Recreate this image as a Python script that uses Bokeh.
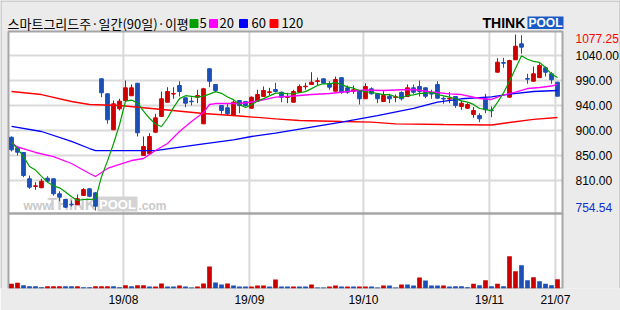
from bokeh.plotting import figure
from bokeh.models import Range1d, FixedTicker, ColumnDataSource
from bokeh.core.properties import value
from bokeh.embed import file_html
from bokeh.resources import INLINE

# ---------------- data ----------------
opens = [888.9, 869.5, 860.9, 812.7, 798.5, 796.2, 813.8, 812.7, 785.2, 774.7,
         766.1, 765.0, 782.0, 794.3, 787.0, 996.0, 968.5, 902.5, 941.0, 956.2,
         964.9, 987.9, 855.4, 858.5, 898.1, 926.9, 953.1, 968.0, 983.7, 961.2,
         955.0, 962.3, 913.5, 1014.4, 985.6, 947.1, 942.9, 928.7, 956.2, 954.4,
         942.1, 955.0, 963.6, 970.9, 976.4, 971.4, 962.0, 953.1, 971.4, 981.4,
         985.6, 991.1, 996.0, 986.9, 973.3, 998.1, 979.5, 973.3, 974.6, 959.4,
         977.7, 968.5, 954.4, 964.1, 962.0, 970.9, 963.6, 979.5, 981.9, 979.5,
         969.1, 985.6, 960.2, 958.9, 963.6, 945.2, 942.1, 930.6, 928.7, 959.4,
         938.5, 1008.1, 1025.9, 962.3, 1030.9, 1060.2, 996.6, 991.6, 998.1, 1016.2,
         1005.2, 989.8]
highs = [890.2, 871.0, 861.5, 818.7, 806.4, 812.7, 817.4, 813.5, 789.9, 775.5,
         772.9, 783.9, 795.4, 795.0, 787.5, 996.5, 969.0, 956.2, 959.4, 992.9,
         985.6, 988.5, 890.2, 896.3, 931.8, 972.7, 980.6, 980.6, 991.6, 961.7,
         962.3, 975.9, 979.5, 1015.0, 986.1, 947.6, 951.3, 956.2, 956.7, 954.9,
         963.6, 975.9, 981.9, 979.5, 988.7, 972.7, 970.4, 975.9, 985.6, 988.7,
         1008.1, 998.1, 996.5, 991.6, 1000.2, 998.6, 983.7, 983.7, 975.1, 987.9,
         980.6, 969.0, 973.3, 968.5, 967.2, 973.3, 985.6, 985.6, 992.9, 980.0,
         975.9, 991.6, 963.6, 971.4, 964.1, 956.2, 951.3, 944.0, 932.9, 968.5,
         945.2, 1033.8, 1034.5, 1030.9, 1077.25, 1076.0, 1005.2, 1018.6, 1024.6, 1018.6,
         1008.1, 990.3]
lows = [862.7, 855.4, 815.6, 794.3, 792.5, 795.5, 806.4, 782.0, 771.6, 759.1,
        761.9, 764.5, 781.5, 778.9, 754.54, 962.3, 913.5, 902.0, 937.9, 955.7,
        964.4, 890.2, 854.9, 858.0, 897.6, 926.4, 952.6, 959.4, 963.6, 944.0,
        947.1, 951.3, 913.0, 980.6, 971.4, 931.8, 928.7, 928.2, 932.9, 945.2,
        941.6, 954.5, 963.1, 965.4, 971.4, 953.1, 951.3, 952.6, 970.9, 975.9,
        985.1, 983.7, 986.9, 975.9, 972.8, 968.5, 968.5, 968.5, 948.9, 958.9,
        967.2, 951.3, 953.9, 951.3, 953.1, 956.2, 963.1, 968.5, 963.6, 960.5,
        959.4, 959.4, 950.2, 951.3, 942.9, 939.2, 941.6, 924.5, 916.4, 932.9,
        925.6, 1007.6, 1016.2, 961.8, 1030.4, 1041.9, 986.9, 991.1, 997.6, 1000.2,
        986.9, 964.1]
closes = [865.8, 861.4, 818.7, 797.3, 799.8, 808.3, 808.3, 785.2, 778.9, 760.6,
          765.0, 776.0, 793.0, 780.7, 762.4, 970.4, 920.8, 950.2, 955.0, 979.5,
          979.5, 897.0, 871.9, 890.2, 924.5, 959.4, 972.7, 969.1, 972.7, 951.3,
          953.9, 965.4, 977.7, 991.6, 974.6, 937.9, 931.8, 953.1, 947.1, 947.1,
          962.3, 967.2, 974.6, 972.2, 972.7, 962.3, 963.0, 972.7, 981.9, 982.5,
          989.8, 992.4, 987.9, 980.6, 994.7, 971.4, 971.4, 975.9, 959.4, 981.9,
          968.5, 959.4, 965.4, 959.4, 963.0, 959.4, 979.5, 971.4, 972.7, 964.1,
          968.0, 960.5, 958.9, 960.2, 947.1, 951.3, 948.9, 937.9, 922.7, 939.2,
          937.4, 1026.5, 1024.6, 1029.6, 1055.8, 1054.0, 995.3, 1005.2, 1020.4, 1008.1,
          994.2, 964.1]
volumes = [47, 57, 33, 23, 23, 13, 23, 23, 23, 23,
           23, 23, 13, 13, 23, 23, 23, 23, 13, 33,
           23, 33, 33, 20, 20, 50, 20, 20, 30, 20,
           10, 20, 50, 220, 60, 40, 50, 30, 20, 20,
           20, 30, 30, 20, 90, 20, 20, 20, 20, 20,
           40, 10, 10, 20, 30, 20, 20, 20, 20, 20,
           20, 10, 30, 30, 10, 40, 40, 30, 110, 80,
           30, 30, 30, 20, 23, 23, 13, 47, 33, 83,
           23, 47, 23, 323, 173, 233, 83, 113, 73, 47,
           33, 93]
volume_up = [1, 1, 0, 0, 0, 0, 1, 1, 1, 0, 0, 1, 0, 0, 1, 1, 1, 0, 0, 1, 0, 1, 1,
             0, 1, 1, 0, 0, 1, 0, 0, 1, 1, 1, 0, 0, 1, 0, 0, 0, 1, 1, 1, 0, 1, 0,
             0, 1, 0, 0, 1, 0, 0, 1, 1, 0, 1, 0, 1, 1, 0, 0, 1, 0, 0, 1, 0, 0, 1,
             0, 0, 0, 1, 0, 0, 0, 0, 1, 0, 1, 0, 1, 0, 1, 1, 0, 0, 1, 0, 0, 0, 1]

ma5 = [879.2, 868.2, 853.5, 835.2, 828.6, 817.1, 806.5, 799.8, 796.1, 788.3,
       779.6, 773.1, 774.7, 775.1, 775.4, 816.5, 845.5, 876.9, 911.8, 955.2,
       957.0, 952.2, 936.6, 923.6, 912.6, 908.6, 923.7, 943.2, 959.7, 965.0,
       963.9, 962.5, 964.2, 968.0, 972.6, 969.4, 962.7, 957.8, 948.9, 943.4,
       948.3, 955.4, 959.7, 964.7, 969.8, 969.8, 969.0, 968.6, 970.5, 972.5,
       978.0, 983.9, 986.9, 986.6, 989.1, 985.4, 981.2, 978.8, 974.6, 972.0,
       971.4, 969.0, 966.9, 966.9, 963.1, 961.3, 965.3, 966.5, 969.2, 969.4,
       971.1, 967.3, 964.8, 962.3, 958.9, 955.6, 953.3, 949.1, 941.6, 940.0,
       937.2, 952.7, 970.1, 991.5, 1014.8, 1038.1, 1031.9, 1028.0, 1026.1, 1016.6,
       1004.6, 998.4]
ma20_day = [0, 1, 4, 7, 10, 13, 14, 16, 18, 20, 22, 24, 26, 28, 30, 32, 33, 34, 38, 40,
            42, 44, 47, 50, 53, 56, 59, 62, 65, 67, 70, 73, 75, 78, 80, 82, 84, 86, 88, 90, 91]
ma20 = [879.4, 871.0, 860.9, 853.5, 840.7, 822.4, 816.9, 831.6, 838.9, 846.2,
        849.9, 864.5, 877.4, 899.4, 917.7, 934.2, 948.9, 950.7, 950.7, 953.5,
        957.2, 962.3, 964.5, 967.2, 969.1, 972.7, 975.5, 974.6, 975.9, 976.4,
        971.8, 968.5, 967.2, 959.9, 958.1, 966.3, 971.8, 978.2, 980.1, 982.8, 985.6]
ma60_day = [0, 5, 10, 13, 14, 24, 26, 32, 37, 40, 44, 50, 55, 61, 67, 71, 75, 80, 83, 87, 91]
ma60 = [908.6, 899.4, 881.1, 868.2, 864.5, 864.5, 867.6, 876.8, 884.2, 890.2,
        896.3, 907.6, 916.5, 928.7, 941.6, 953.1, 959.4, 963.0, 968.1, 972.7, 974.6]
ma120_day = [0, 5, 10, 13, 18, 22, 26, 32, 38, 44, 48, 55, 60, 64, 72, 80, 83, 87, 91]
ma120 = [972.7, 967.2, 954.4, 948.9, 947.1, 942.9, 938.8, 932.4, 927.8, 922.7,
         919.6, 917.7, 916.5, 913.5, 912.2, 911.3, 915.9, 921.8, 925.1]

month_start_day = [19, 40, 59, 80, 91]
month_labels = ["19/08", "19/09", "19/10", "19/11", "21/07"]
price_levels = [1038.8, 992.9, 947.1, 901.2, 855.4, 809.5]
price_labels = ["1040.00", "990.00", "940.00", "900.00", "850.00", "810.00"]

title_text = "스마트그리드주·일간(90일)·이평"
ma_names = ["5", "20", "60", "120"]

# ---------------- styling / geometry (pixels) ----------------
W, H = 620, 310
PL, PR, PT, PM, PB = 8, 562, 31, 213, 288     # panel left/right/top/middle/bottom
X0, STEP = 11.0, 6.0
HI_PX, LO_PX = 34.0, 210.0
MAXVOL_PX = 32.3
RED, BLUE = "#cc0000", "#1c4fb8"
MA_COLORS = ["#00a000", "#ff00ff", "#0000ff", "#ff0000"]
GRID = "#d9d9d9"
FRAME = "#a6a6a6"
BG = "#ebebeb"
KFONT = "Noto Sans CJK KR"
NFONT = "Liberation Sans"

n = len(closes)
hi, lo = max(highs), min(lows)
ppx = (hi - lo) / (LO_PX - HI_PX)


def px_x(px):
    return (px - X0) / STEP


def py_p(py):
    return hi - (py - HI_PX) * ppx


vol_per_px = max(volumes) / MAXVOL_PX

p = figure(width=W, height=H, output_backend="svg", toolbar_location=None,
           x_range=Range1d(px_x(0), px_x(W)), y_range=Range1d(py_p(PB), py_p(0)),
           min_border_left=0, min_border_right=0, min_border_top=0, min_border_bottom=H - PB,
           y_axis_location=None)
p.extra_y_ranges = {"vol": Range1d(0, vol_per_px * PB)}
p.background_fill_color = BG
p.border_fill_color = BG
p.outline_line_color = None
p.xgrid.visible = False
p.ygrid.visible = False

# date axis
grid_x = [d - 0.35 for d in month_start_day]
p.xaxis.ticker = FixedTicker(ticks=grid_x)
p.xaxis.major_label_overrides = {g: lab for g, lab in zip(grid_x, month_labels)}
ax = p.xaxis[0]
ax.axis_line_color = None
ax.major_tick_line_color = None
ax.minor_tick_line_color = None
ax.major_tick_out = 0
ax.major_tick_in = 0
ax.major_label_standoff = 4
ax.major_label_text_font = NFONT
ax.major_label_text_font_size = "12px"
ax.major_label_text_color = "#000000"

# outer border (top, left, right)
p.segment(x0=[px_x(0), px_x(0.5), px_x(619.5)], y0=[py_p(0.5), py_p(0), py_p(0)],
          x1=[px_x(W), px_x(0.5), px_x(619.5)], y1=[py_p(0.5), py_p(PB), py_p(PB)],
          color="#b4b4b4", line_width=1)

# white panels
p.quad(left=[px_x(PL)] * 2, right=[px_x(PR)] * 2, top=[py_p(PT), py_p(PM)],
       bottom=[py_p(PM), py_p(PB)], fill_color="white", line_color=None)

# grid lines
p.segment(x0=grid_x, x1=grid_x, y0=[py_p(PB)] * len(grid_x), y1=[py_p(PT)] * len(grid_x),
          color=GRID, line_width=2)
p.segment(x0=[px_x(PL)] * len(price_levels), x1=[px_x(PR)] * len(price_levels),
          y0=price_levels, y1=price_levels, color=GRID, line_width=2)

# panel frames
p.quad(left=[px_x(PL)] * 2, right=[px_x(PR)] * 2, top=[py_p(PT), py_p(PM)],
       bottom=[py_p(PM), py_p(PB)], fill_color=None, line_color=FRAME, line_width=2)

# watermark
p.text(x=[px_x(23)], y=[py_p(205)], text=["www."], text_font=value(NFONT),
       text_font_style="bold", text_font_size="12px", text_color="#c9c9c9",
       text_baseline="middle")
p.text(x=[px_x(47)], y=[py_p(204)], text=["THINK"], text_font=value(NFONT),
       text_font_style="bold", text_font_size="16px", text_color="#cdcdcd",
       text_baseline="middle")
p.quad(left=[px_x(97)], right=[px_x(137)], top=[py_p(196)], bottom=[py_p(211)],
       fill_color="#d4d4d4", line_color=None)
p.text(x=[px_x(117)], y=[py_p(204)], text=["POOL"], text_font=value(NFONT),
       text_font_style="bold", text_font_size="13px", text_color="#ffffff",
       text_baseline="middle", text_align="center")
p.text(x=[px_x(138)], y=[py_p(205)], text=[".com"], text_font=value(NFONT),
       text_font_style="bold", text_font_size="12px", text_color="#c9c9c9",
       text_baseline="middle")

# candles
days = list(range(n))
col = [RED if c >= o else BLUE for o, c in zip(opens, closes)]
src = ColumnDataSource(dict(x=days, o=opens, h=highs, l=lows, c=closes,
                            top=[max(o, c) for o, c in zip(opens, closes)],
                            bot=[min(o, c) for o, c in zip(opens, closes)], col=col))
p.segment(x0="x", y0="l", x1="x", y1="h", color="col", line_width=1, source=src)
p.vbar(x="x", width=0.62, top="top", bottom="bot", fill_color="col", line_color="col",
       line_width=1, source=src)

# volume
vsrc = ColumnDataSource(dict(x=days, v=volumes, col=[RED if u else BLUE for u in volume_up]))
p.vbar(x="x", width=0.78, top="v", bottom=0, fill_color="col", line_color=None,
       y_range_name="vol", source=vsrc)

# moving averages
p.line(ma120_day, ma120, color=MA_COLORS[3], line_width=1.3)
p.line(ma60_day, ma60, color=MA_COLORS[2], line_width=1.3)
p.line(ma20_day, ma20, color=MA_COLORS[1], line_width=1.3)
p.line(days, ma5, color=MA_COLORS[0], line_width=1.2)

# right-hand price labels
lab_y = [py_p(38)] + price_levels + [py_p(207)]
lab_t = [f"{hi:.2f}"] + price_labels + [f"{lo:.2f}"]
lab_c = ["#ff0000"] + ["#000000"] * len(price_levels) + ["#1030d0"]
p.text(x=[px_x(575)] * len(lab_y), y=lab_y, text=lab_t, text_color=lab_c,
       text_font=value(NFONT), text_font_size="12px", text_baseline="middle")

# header: title + moving-average legend
p.text(x=[px_x(7)], y=[py_p(22.5)], text=[title_text], text_font=value(KFONT),
       text_font_size="13px", text_color="#000000", text_baseline="middle")
sq_px = [193.5, 213, 243, 273.5]
num_px = [199, 219, 251, 281]
p.scatter(x=[px_x(v) for v in sq_px], y=[py_p(23)] * 4, marker="square", size=8,
          color=MA_COLORS)
p.text(x=[px_x(v) for v in num_px], y=[py_p(22.5)] * 4, text=ma_names, text_font=value(KFONT),
       text_font_size="13px", text_color="#000000", text_baseline="middle")

# logo
p.text(x=[px_x(482)], y=[py_p(22.3)], text=["THINK"], text_font=value(NFONT),
       text_font_style="bold", text_font_size="14px", text_color="#000000",
       text_baseline="middle")
p.quad(left=[px_x(527)], right=[px_x(563)], top=[py_p(16)], bottom=[py_p(28.5)],
       fill_color="#1b5bc6", line_color=None)
p.text(x=[px_x(545)], y=[py_p(22.5)], text=["POOL"], text_font=value(NFONT),
       text_font_style="bold", text_font_size="12px", text_color="#ffffff",
       text_baseline="middle", text_align="center")

open("out.html", "w").write(file_html(p, INLINE))
